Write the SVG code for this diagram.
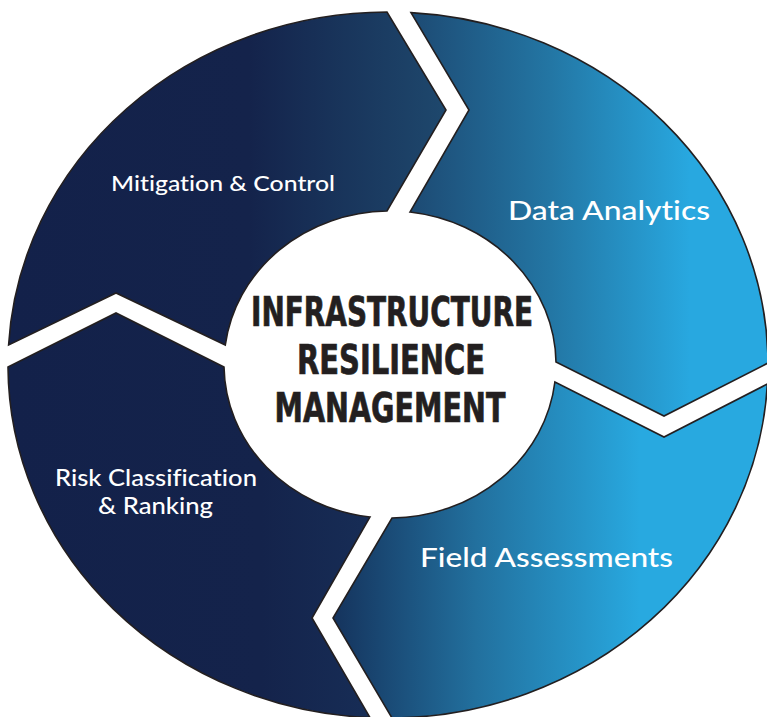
<svg xmlns="http://www.w3.org/2000/svg" width="767" height="717" viewBox="0 0 767 717">
  <style>
    .seg { stroke: #231f20; stroke-width: 1.6; stroke-linejoin: miter; }
    .lbl { font-family: "Lato", "Open Sans", "Liberation Sans", sans-serif; fill: #ffffff; font-weight: 500; font-variant-ligatures: none; }
    .title { font-family: "Liberation Sans Narrow", "DejaVu Sans Condensed", "Liberation Sans", sans-serif; font-weight: bold; fill: #231f20; stroke: #231f20; stroke-width: 0.7; font-size: 40px; text-anchor: middle; }
  </style>
  <defs>
    <linearGradient id="gMit" gradientUnits="userSpaceOnUse" x1="8" y1="0" x2="446" y2="0">
      <stop offset="0" stop-color="#13214a"/>
      <stop offset="0.55" stop-color="#14234b"/>
      <stop offset="1" stop-color="#1e486d"/>
    </linearGradient>
    <linearGradient id="gData" gradientUnits="userSpaceOnUse" x1="411" y1="0" x2="690" y2="0">
      <stop offset="0" stop-color="#1d4a73"/>
      <stop offset="0.5" stop-color="#2376a4"/>
      <stop offset="1" stop-color="#28a8e0"/>
    </linearGradient>
    <linearGradient id="gField" gradientUnits="userSpaceOnUse" x1="312" y1="0" x2="640" y2="0">
      <stop offset="0" stop-color="#132a53"/>
      <stop offset="0.5" stop-color="#22709e"/>
      <stop offset="1" stop-color="#28a9e0"/>
    </linearGradient>
    <linearGradient id="gRisk" gradientUnits="userSpaceOnUse" x1="8" y1="0" x2="370" y2="0">
      <stop offset="0" stop-color="#13214a"/>
      <stop offset="0.7" stop-color="#14234b"/>
      <stop offset="1" stop-color="#172d56"/>
    </linearGradient>
  </defs>
  <rect width="767" height="717" fill="#ffffff"/>

  <g id="node-mitigation">
    <path class="seg" fill="url(#gMit)" d="M 8.6 345 A 380 353 0 0 1 387 12 L 446 110 L 387 211 A 166 153.5 0 0 0 225.3 345 L 116 293 Z"/>
    <text class="lbl" x="111" y="191" font-size="22" textLength="224" lengthAdjust="spacingAndGlyphs">Mitigation &amp; Control</text>
  </g>

  <g id="node-data">
    <path class="seg" fill="url(#gData)" d="M 411 12.6 A 380 353 0 0 1 768 363 L 664 416 L 556 362 A 166 153.5 0 0 0 410 212 L 469 110 Z"/>
    <text class="lbl" x="508" y="220" font-size="27" textLength="202" lengthAdjust="spacingAndGlyphs">Data Analytics</text>
  </g>

  <g id="node-field">
    <path class="seg" fill="url(#gField)" d="M 767.4 384 A 380 353 0 0 1 392 718 L 333 618 L 392 518 A 166 153.5 0 0 0 554.9 382 L 664 437 Z"/>
    <text class="lbl" x="420" y="567" font-size="27" textLength="253" lengthAdjust="spacingAndGlyphs">Field Assessments</text>
  </g>

  <g id="node-risk">
    <path class="seg" fill="url(#gRisk)" d="M 370 717.6 A 380 353 0 0 1 8 367 L 116 313 L 224 367 A 166 153.5 0 0 0 370 517 L 312 618 Z"/>
    <text class="lbl" x="55" y="486" font-size="23" textLength="202" lengthAdjust="spacingAndGlyphs">Risk Classification</text>
    <text class="lbl" x="98" y="514" font-size="23" textLength="115" lengthAdjust="spacingAndGlyphs">&amp; Ranking</text>
  </g>

  <g id="node-center">
    <text class="title" x="392" y="326" textLength="282" lengthAdjust="spacingAndGlyphs">INFRASTRUCTURE</text>
    <text class="title" x="391" y="374" textLength="188" lengthAdjust="spacingAndGlyphs">RESILIENCE</text>
    <text class="title" x="390" y="422" textLength="231" lengthAdjust="spacingAndGlyphs">MANAGEMENT</text>
  </g>

  <g id="connectors"></g>
</svg>
